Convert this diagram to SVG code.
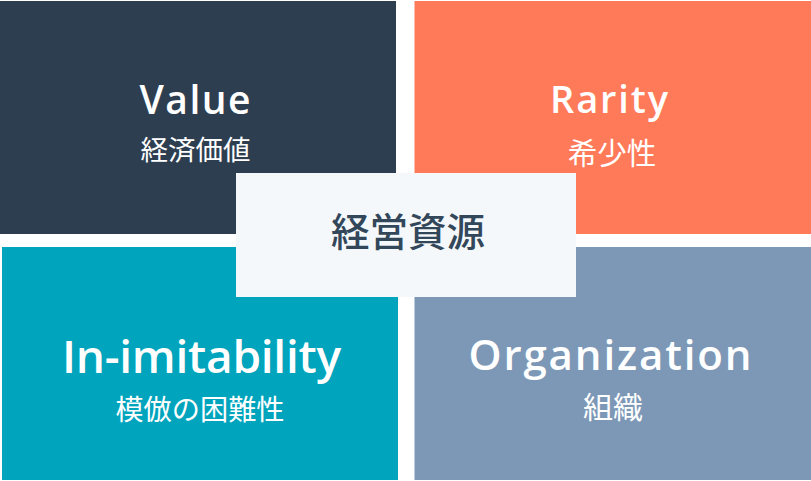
<svg xmlns="http://www.w3.org/2000/svg" width="811" height="481" viewBox="0 0 811 481">
<style>
.title{font-family:"Open Sans","Noto Sans",sans-serif;font-weight:600;fill:#ffffff;text-anchor:middle}
.sub{font-family:"Noto Sans CJK JP","Noto Sans",sans-serif;font-weight:400;fill:#ffffff;text-anchor:middle}
.center{font-family:"Noto Sans CJK JP","Noto Sans",sans-serif;font-weight:500;fill:#33475b;text-anchor:middle}
</style>
<rect x="0" y="0" width="811" height="481" fill="#ffffff"/>
<g id="value">
<rect x="0" y="1" width="396" height="233" fill="#2d3e50"/>
<text class="title" x="195" y="114" font-size="39" textLength="111" lengthAdjust="spacing">Value</text>
<text class="sub" x="195.5" y="160" font-size="27.5">経済価値</text>
</g>
<g id="rarity">
<rect x="414.5" y="1" width="396.5" height="233" fill="#ff7a59"/>
<text class="title" x="609" y="113" font-size="38" textLength="118" lengthAdjust="spacing">Rarity</text>
<text class="sub" x="612" y="163.5" font-size="29.5">希少性</text>
</g>
<g id="inimitability">
<rect x="2" y="247" width="396" height="233" fill="#00a4bd"/>
<text class="title" x="201.5" y="373" font-size="46" textLength="279" lengthAdjust="spacing">In-imitability</text>
<text class="sub" x="200" y="419.5" font-size="28.2">模倣の困難性</text>
</g>
<g id="organization">
<rect x="414.5" y="247" width="396.5" height="233" fill="#7c98b6"/>
<text class="title" x="610" y="370" font-size="42" textLength="283" lengthAdjust="spacing">Organization</text>
<text class="sub" x="613" y="418" font-size="30">組織</text>
</g>
<g id="resources">
<rect x="236" y="173" width="340" height="124" fill="#f5f8fa"/>
<text class="center" x="408" y="245.5" font-size="38.5">経営資源</text>
</g>
<g id="connectors"></g>
</svg>
